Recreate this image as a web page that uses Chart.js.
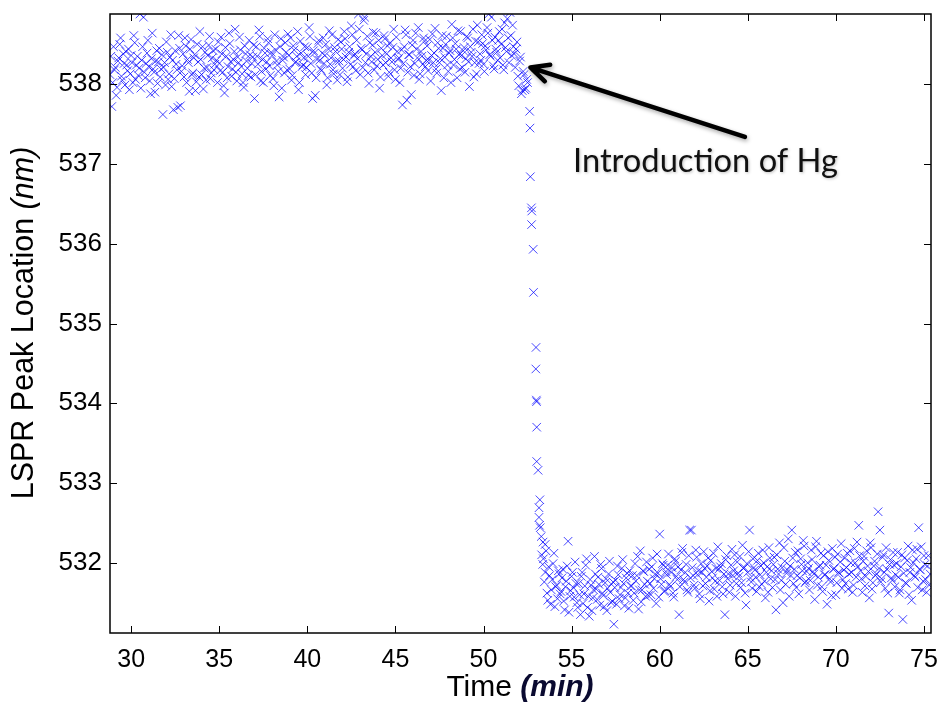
<!DOCTYPE html>
<html>
<head>
<meta charset="utf-8">
<title>LSPR peak location vs time</title>
<script src="https://cdn.jsdelivr.net/npm/chart.js@4.4.1/dist/chart.umd.min.js"></script>
<style>
  html, body { margin: 0; padding: 0; background: #fff; }
  #chartWrap { width: 943px; height: 706px; }
</style>
</head>
<body>
<div id="chartWrap"><canvas id="lsprChart" width="943" height="706"></canvas></div>
<script>
// Before Hg: time (min) and peak location (nm), two interleaved read-outs
const upperTime = [
  28.8,28.9,29.0,29.1,29.2,29.3,29.4,29.5,29.6,29.7,
  29.8,29.9,30.0,30.1,30.2,30.3,30.4,30.5,30.6,30.7,
  30.8,30.9,31.0,31.1,31.2,31.3,31.4,31.5,31.6,31.7,
  31.8,31.9,32.0,32.1,32.2,32.3,32.4,32.5,32.6,32.7,
  32.8,32.9,33.0,33.1,33.2,33.3,33.4,33.5,33.6,33.7,
  33.8,33.9,34.0,34.1,34.2,34.3,34.4,34.5,34.6,34.7,
  34.8,34.9,35.0,35.1,35.2,35.3,35.4,35.5,35.6,35.7,
  35.8,35.9,36.0,36.1,36.2,36.3,36.4,36.5,36.6,36.7,
  36.8,36.9,37.0,37.1,37.2,37.3,37.4,37.5,37.6,37.7,
  37.8,37.9,38.0,38.1,38.2,38.3,38.4,38.5,38.6,38.7,
  38.8,38.9,39.0,39.1,39.2,39.3,39.4,39.5,39.6,39.7,
  39.8,39.9,40.0,40.1,40.2,40.3,40.4,40.5,40.6,40.7,
  40.8,40.9,41.0,41.1,41.2,41.3,41.4,41.5,41.6,41.7,
  41.8,41.9,42.0,42.1,42.2,42.3,42.4,42.5,42.6,42.7,
  42.8,42.9,43.0,43.1,43.2,43.3,43.4,43.5,43.6,43.7,
  43.8,43.9,44.0,44.1,44.2,44.3,44.4,44.5,44.6,44.7,
  44.8,44.9,45.0,45.1,45.2,45.3,45.4,45.5,45.6,45.7,
  45.8,45.9,46.0,46.1,46.2,46.3,46.4,46.5,46.6,46.7,
  46.8,46.9,47.0,47.1,47.2,47.3,47.4,47.5,47.6,47.7,
  47.8,47.9,48.0,48.1,48.2,48.3,48.4,48.5,48.6,48.7,
  48.8,48.9,49.0,49.1,49.2,49.3,49.4,49.5,49.6,49.7,
  49.8,49.9,50.0,50.1,50.2,50.3,50.4,50.5,50.6,50.7,
  50.8,50.9,51.0,51.1,51.2,51.3,51.4,51.5,51.6,51.7,
  51.8,51.9,52.0,52.1,52.2,52.3,52.4,52.5
];
const upperValue = [
  538.12,537.72,538.47,538.21,537.96,538.33,538.58,538.05,538.26,538.41,
  538.17,537.93,538.36,538.02,538.52,538.24,538.11,538.88,538.30,538.84,
  538.08,538.39,538.22,537.88,538.64,538.15,538.29,538.01,538.45,538.19,
  537.62,538.27,538.53,538.06,538.34,537.97,537.68,538.42,538.18,538.61,
  537.73,538.23,538.09,538.48,538.31,537.91,538.56,538.14,538.37,538.03,
  538.28,538.66,538.12,537.94,538.40,538.21,538.49,538.07,538.33,538.18,
  538.44,538.02,538.26,538.59,538.15,537.89,538.35,538.22,538.51,538.10,
  538.31,538.69,538.04,538.27,538.43,538.13,537.96,538.38,538.20,538.55,
  538.09,538.34,537.82,538.47,538.25,538.60,538.16,538.02,538.39,538.28,
  538.52,538.11,538.36,537.98,538.43,538.24,537.84,538.57,538.30,538.14,
  538.40,538.63,538.19,538.05,538.48,538.27,538.35,537.93,538.54,538.22,
  538.33,538.12,538.46,538.71,538.26,537.82,538.39,538.08,538.51,538.30,
  538.17,538.58,538.36,537.99,538.44,538.25,538.62,538.13,538.41,538.05,
  538.29,538.53,538.20,538.66,538.34,538.09,538.47,538.73,538.22,538.38,
  538.55,538.88,538.12,538.43,538.80,538.27,538.60,538.01,538.35,538.49,
  538.18,538.64,538.31,537.95,538.45,538.24,538.57,538.38,538.10,538.52,
  538.28,538.69,538.06,538.41,538.33,538.20,537.74,538.47,538.62,538.15,
  538.37,537.87,538.55,538.26,538.44,538.71,538.13,538.35,538.58,538.22,
  538.48,538.30,538.04,538.63,538.39,538.19,538.52,538.27,537.92,538.45,
  538.34,538.60,538.16,538.42,538.75,538.24,538.51,538.08,538.37,538.66,
  538.21,538.46,538.32,538.58,537.97,538.40,538.69,538.27,538.13,538.53,
  538.38,538.62,538.25,538.48,538.71,538.88,538.35,538.55,538.19,538.44,
  538.30,538.66,538.50,538.24,538.77,538.41,538.58,538.90,538.36,538.47,
  538.21,538.53,537.98,538.34,537.92,538.12,537.95,538.02
];
const upperTimeB = [
  28.85,28.95,29.05,29.15,29.25,29.35,29.45,29.55,29.65,29.75,
  29.85,29.95,30.05,30.15,30.25,30.35,30.45,30.55,30.65,30.75,
  30.85,30.95,31.05,31.15,31.25,31.35,31.45,31.55,31.65,31.75,
  31.85,31.95,32.05,32.15,32.25,32.35,32.45,32.55,32.65,32.75,
  32.85,32.95,33.05,33.15,33.25,33.35,33.45,33.55,33.65,33.75,
  33.85,33.95,34.05,34.15,34.25,34.35,34.45,34.55,34.65,34.75,
  34.85,34.95,35.05,35.15,35.25,35.35,35.45,35.55,35.65,35.75,
  35.85,35.95,36.05,36.15,36.25,36.35,36.45,36.55,36.65,36.75,
  36.85,36.95,37.05,37.15,37.25,37.35,37.45,37.55,37.65,37.75,
  37.85,37.95,38.05,38.15,38.25,38.35,38.45,38.55,38.65,38.75,
  38.85,38.95,39.05,39.15,39.25,39.35,39.45,39.55,39.65,39.75,
  39.85,39.95,40.05,40.15,40.25,40.35,40.45,40.55,40.65,40.75,
  40.85,40.95,41.05,41.15,41.25,41.35,41.45,41.55,41.65,41.75,
  41.85,41.95,42.05,42.15,42.25,42.35,42.45,42.55,42.65,42.75,
  42.85,42.95,43.05,43.15,43.25,43.35,43.45,43.55,43.65,43.75,
  43.85,43.95,44.05,44.15,44.25,44.35,44.45,44.55,44.65,44.75,
  44.85,44.95,45.05,45.15,45.25,45.35,45.45,45.55,45.65,45.75,
  45.85,45.95,46.05,46.15,46.25,46.35,46.45,46.55,46.65,46.75,
  46.85,46.95,47.05,47.15,47.25,47.35,47.45,47.55,47.65,47.75,
  47.85,47.95,48.05,48.15,48.25,48.35,48.45,48.55,48.65,48.75,
  48.85,48.95,49.05,49.15,49.25,49.35,49.45,49.55,49.65,49.75,
  49.85,49.95,50.05,50.15,50.25,50.35,50.45,50.55,50.65,50.75,
  50.85,50.95,51.05,51.15,51.25,51.35,51.45,51.55,51.65,51.75,
  51.85,51.95,52.05,52.15,52.25,52.35,52.45
];
const upperValueB = [
  538.35,538.02,538.18,537.86,538.29,538.50,538.10,538.38,537.99,538.24,
  538.44,538.13,538.27,538.61,538.06,538.35,538.20,537.95,538.47,538.15,
  538.26,538.55,538.04,538.32,538.19,537.90,538.42,538.28,538.09,538.37,
  538.21,537.99,538.40,538.13,538.62,538.30,538.07,538.25,537.71,538.45,
  538.16,538.38,538.58,538.02,538.27,538.44,538.12,538.33,537.92,538.50,
  538.09,538.31,538.47,538.20,538.05,538.36,538.60,538.14,538.42,538.25,
  538.30,538.53,538.17,538.38,537.98,538.46,538.08,538.64,538.28,538.19,
  538.41,538.15,538.34,538.59,538.22,538.02,538.48,538.29,538.11,538.37,
  538.26,538.49,538.12,538.35,538.68,538.04,538.31,538.45,538.19,538.57,
  538.23,538.40,538.07,538.62,538.29,538.16,538.47,537.95,538.34,538.52,
  538.18,538.36,538.58,538.11,538.43,538.28,538.66,538.02,538.39,538.24,
  538.47,538.21,538.35,538.60,538.14,538.42,537.86,538.31,538.55,538.19,
  538.39,538.26,538.50,538.08,538.67,538.33,538.18,538.46,538.29,538.56,
  538.12,538.44,538.31,538.57,538.03,538.40,538.25,538.62,538.36,538.17,
  538.32,538.69,538.45,538.21,538.84,538.38,538.14,538.52,538.28,538.65,
  538.40,538.23,538.55,538.09,538.36,538.61,538.27,538.48,538.15,538.33,
  538.46,538.18,538.59,538.31,538.02,538.43,538.26,538.68,537.80,538.37,
  538.22,538.49,538.11,538.64,538.33,538.06,538.41,538.25,538.54,538.30,
  538.17,538.56,538.36,538.27,538.70,538.14,538.45,538.32,538.61,538.08,
  538.50,538.24,538.39,538.02,538.58,538.31,538.44,538.67,538.19,538.36,
  538.42,538.15,538.60,538.28,538.47,538.35,538.09,538.54,538.74,538.26,
  538.30,538.51,538.16,538.43,538.64,538.37,538.84,538.23,538.59,538.40,
  538.55,538.33,538.69,538.18,538.46,538.82,538.27,538.61,538.74,538.38,
  538.44,538.10,538.29,537.88,538.16,537.93,538.06
];

// Response to Hg
const dropTime = [
  52.62,52.64,52.66,52.72,52.74,52.73,52.82,52.84,52.98,52.97,
  53.00,53.01,53.02,53.02,53.10,53.20,53.15,53.15,53.18,53.22,
  53.28,53.38,53.50,53.30,53.36
];
const dropValue = [
  537.66,537.45,536.84,536.45,536.41,536.24,535.93,535.39,534.70,534.43,
  534.04,534.02,533.70,533.27,533.16,532.79,532.69,532.57,532.47,532.44,
  532.33,532.26,532.23,532.10,531.98
];

// After Hg
const lowerTime = [
  53.4,53.5,53.6,53.7,53.8,53.9,54.0,54.1,54.2,54.3,
  54.4,54.5,54.6,54.7,54.8,54.9,55.0,55.1,55.2,55.3,
  55.4,55.5,55.6,55.7,55.8,55.9,56.0,56.1,56.2,56.3,
  56.4,56.5,56.6,56.7,56.8,56.9,57.0,57.1,57.2,57.3,
  57.4,57.5,57.6,57.7,57.8,57.9,58.0,58.1,58.2,58.3,
  58.4,58.5,58.6,58.7,58.8,58.9,59.0,59.1,59.2,59.3,
  59.4,59.5,59.6,59.7,59.8,59.9,60.0,60.1,60.2,60.3,
  60.4,60.5,60.6,60.7,60.8,60.9,61.0,61.1,61.2,61.3,
  61.4,61.5,61.6,61.7,61.8,61.9,62.0,62.1,62.2,62.3,
  62.4,62.5,62.6,62.7,62.8,62.9,63.0,63.1,63.2,63.3,
  63.4,63.5,63.6,63.7,63.8,63.9,64.0,64.1,64.2,64.3,
  64.4,64.5,64.6,64.7,64.8,64.9,65.0,65.1,65.2,65.3,
  65.4,65.5,65.6,65.7,65.8,65.9,66.0,66.1,66.2,66.3,
  66.4,66.5,66.6,66.7,66.8,66.9,67.0,67.1,67.2,67.3,
  67.4,67.5,67.6,67.7,67.8,67.9,68.0,68.1,68.2,68.3,
  68.4,68.5,68.6,68.7,68.8,68.9,69.0,69.1,69.2,69.3,
  69.4,69.5,69.6,69.7,69.8,69.9,70.0,70.1,70.2,70.3,
  70.4,70.5,70.6,70.7,70.8,70.9,71.0,71.1,71.2,71.3,
  71.4,71.5,71.6,71.7,71.8,71.9,72.0,72.1,72.2,72.3,
  72.4,72.5,72.6,72.7,72.8,72.9,73.0,73.1,73.2,73.3,
  73.4,73.5,73.6,73.7,73.8,73.9,74.0,74.1,74.2,74.3,
  74.4,74.5,74.6,74.7,74.8,74.9,75.0,75.1,75.2,75.3
];
const lowerValue = [
  532.05,531.88,531.62,531.95,531.48,531.79,532.12,531.70,531.55,531.86,
  531.64,531.92,531.41,531.77,532.27,531.58,531.83,531.69,532.01,531.50,
  531.74,531.35,531.88,531.61,531.97,531.44,531.33,531.72,531.56,532.08,
  531.67,531.82,531.47,531.93,531.59,531.75,531.40,531.86,531.63,531.52,
  531.23,531.78,531.96,531.55,531.69,532.04,531.46,531.81,531.62,531.90,
  531.71,531.53,531.99,531.84,531.42,532.15,531.66,531.89,531.58,531.77,
  531.92,531.60,532.06,531.80,531.49,531.87,532.36,531.73,531.97,531.65,
  531.85,532.11,531.70,531.94,531.57,532.02,531.79,531.35,531.91,532.18,
  531.76,531.98,531.63,532.41,532.41,531.84,531.68,532.07,531.90,531.55,
  531.88,532.14,531.74,531.96,531.52,532.03,531.81,531.67,531.93,532.20,
  531.78,531.99,531.61,531.35,532.09,531.86,531.72,532.17,531.90,531.58,
  532.01,531.83,531.69,532.22,531.94,531.47,531.88,532.41,531.76,532.05,
  531.91,531.64,532.12,531.85,531.73,532.00,531.56,531.95,532.19,531.80,
  531.69,532.07,531.41,531.92,532.25,531.78,531.50,532.02,531.87,532.30,
  531.96,532.41,531.74,532.13,531.84,531.61,532.05,531.90,532.21,531.77,
  532.00,531.66,532.16,531.89,531.54,532.27,531.82,531.97,531.70,532.09,
  531.85,531.48,532.03,531.76,532.18,531.93,531.60,532.11,531.87,532.24,
  531.79,532.06,531.94,531.67,532.15,531.88,531.72,532.00,532.26,532.47,
  531.90,531.63,532.08,531.83,531.96,531.56,532.19,531.75,532.02,531.86,
  532.64,532.41,531.80,532.10,531.68,531.92,531.37,532.04,531.78,531.97,
  531.85,532.13,531.62,531.95,531.29,532.06,531.74,532.21,531.88,531.53,
  532.00,531.82,532.17,532.44,531.91,531.66,532.09,531.79,531.96,531.72
];
const lowerTimeB = [
  53.45,53.55,53.65,53.75,53.85,53.95,54.05,54.15,54.25,54.35,
  54.45,54.55,54.65,54.75,54.85,54.95,55.05,55.15,55.25,55.35,
  55.45,55.55,55.65,55.75,55.85,55.95,56.05,56.15,56.25,56.35,
  56.45,56.55,56.65,56.75,56.85,56.95,57.05,57.15,57.25,57.35,
  57.45,57.55,57.65,57.75,57.85,57.95,58.05,58.15,58.25,58.35,
  58.45,58.55,58.65,58.75,58.85,58.95,59.05,59.15,59.25,59.35,
  59.45,59.55,59.65,59.75,59.85,59.95,60.05,60.15,60.25,60.35,
  60.45,60.55,60.65,60.75,60.85,60.95,61.05,61.15,61.25,61.35,
  61.45,61.55,61.65,61.75,61.85,61.95,62.05,62.15,62.25,62.35,
  62.45,62.55,62.65,62.75,62.85,62.95,63.05,63.15,63.25,63.35,
  63.45,63.55,63.65,63.75,63.85,63.95,64.05,64.15,64.25,64.35,
  64.45,64.55,64.65,64.75,64.85,64.95,65.05,65.15,65.25,65.35,
  65.45,65.55,65.65,65.75,65.85,65.95,66.05,66.15,66.25,66.35,
  66.45,66.55,66.65,66.75,66.85,66.95,67.05,67.15,67.25,67.35,
  67.45,67.55,67.65,67.75,67.85,67.95,68.05,68.15,68.25,68.35,
  68.45,68.55,68.65,68.75,68.85,68.95,69.05,69.15,69.25,69.35,
  69.45,69.55,69.65,69.75,69.85,69.95,70.05,70.15,70.25,70.35,
  70.45,70.55,70.65,70.75,70.85,70.95,71.05,71.15,71.25,71.35,
  71.45,71.55,71.65,71.75,71.85,71.95,72.05,72.15,72.25,72.35,
  72.45,72.55,72.65,72.75,72.85,72.95,73.05,73.15,73.25,73.35,
  73.45,73.55,73.65,73.75,73.85,73.95,74.05,74.15,74.25,74.35,
  74.45,74.55,74.65,74.75,74.85,74.95,75.05,75.15,75.25,75.35
];
const lowerValueB = [
  531.76,532.15,531.53,531.84,531.66,531.99,531.45,531.72,531.90,531.61,
  531.81,531.52,531.70,531.96,531.38,531.65,531.88,531.57,531.74,531.44,
  531.60,531.83,531.49,531.71,532.05,531.58,531.79,531.40,531.66,531.86,
  531.54,531.73,531.98,531.62,531.45,531.80,531.68,532.02,531.50,531.76,
  531.69,531.48,531.85,531.60,531.93,531.74,531.56,531.87,531.43,531.71,
  531.84,531.62,531.77,532.08,531.66,531.51,531.90,531.73,532.01,531.59,
  531.74,531.95,531.68,531.86,532.11,531.57,531.80,531.99,531.64,531.89,
  531.97,531.73,531.88,531.62,532.05,531.83,531.95,531.70,532.13,531.79,
  531.88,531.66,532.09,531.81,531.94,531.72,532.16,531.85,531.61,531.99,
  531.71,531.93,531.82,532.06,531.65,531.89,532.12,531.77,531.58,531.92,
  531.95,531.70,531.86,532.04,531.80,531.63,531.97,531.84,532.10,531.74,
  531.87,532.08,531.75,531.93,531.62,531.99,532.14,531.81,531.68,531.94,
  531.82,532.03,531.70,531.96,532.16,531.77,531.88,531.63,532.06,531.90,
  531.98,531.79,532.10,531.86,531.66,531.94,532.19,531.73,531.91,531.58,
  531.84,532.06,531.92,531.69,532.15,531.81,531.98,532.28,531.75,531.89,
  531.93,531.78,532.04,531.86,532.20,531.72,531.95,532.12,531.64,531.85,
  531.97,532.14,531.80,531.59,531.92,532.07,531.75,531.88,532.01,531.68,
  531.91,531.74,532.12,531.86,532.00,531.63,532.18,531.82,531.95,532.09,
  531.80,532.02,531.71,532.15,531.89,532.25,531.67,531.96,531.84,532.11,
  531.93,531.76,532.07,531.88,532.19,531.62,531.98,531.81,532.13,531.70,
  531.99,531.82,531.66,532.10,531.87,531.75,532.03,531.60,531.94,532.16,
  531.84,532.05,531.69,531.92,532.20,531.77,531.98,531.63,532.09,531.86
];

const xTickValues = [30, 35, 40, 45, 50, 55, 60, 65, 70, 75];
const yTickValues = [532, 533, 534, 535, 536, 537, 538];

const annotationText = 'Introduction of Hg';

function toPoints(times, values) {
  return times.map((t, i) => ({ x: t, y: values[i] }));
}

// draw text made of several styled pieces, centred on (cx, cy)
function drawRichText(ctx, parts, cx, cy) {
  let total = 0;
  parts.forEach(p => { ctx.font = p.font; p.w = ctx.measureText(p.text).width; total += p.w; });
  let left = cx - total / 2;
  ctx.textAlign = 'left';
  ctx.textBaseline = 'middle';
  parts.forEach(p => {
    ctx.font = p.font;
    ctx.fillStyle = p.color || '#000';
    ctx.fillText(p.text, left, cy);
    left += p.w;
  });
}

const framePlugin = {
  id: 'frame',
  afterDraw(chart) {
    const { ctx, chartArea: a, scales: { x, y } } = chart;
    ctx.save();

    // box around plot
    ctx.strokeStyle = '#000';
    ctx.lineWidth = 1.5;
    ctx.strokeRect(a.left, a.top, a.right - a.left, a.bottom - a.top);

    // inward ticks on all four sides
    const tl = 7;
    ctx.lineWidth = 1;
    ctx.beginPath();
    xTickValues.forEach(v => {
      const px = Math.round(x.getPixelForValue(v)) + 0.5;
      ctx.moveTo(px, a.bottom); ctx.lineTo(px, a.bottom - tl);
      ctx.moveTo(px, a.top); ctx.lineTo(px, a.top + tl);
    });
    yTickValues.forEach(v => {
      const py = Math.round(y.getPixelForValue(v)) + 0.5;
      ctx.moveTo(a.left, py); ctx.lineTo(a.left + tl, py);
      ctx.moveTo(a.right, py); ctx.lineTo(a.right - tl, py);
    });
    ctx.stroke();

    // axis titles
    drawRichText(ctx, [
      { text: 'Time ', font: '30px "Liberation Sans", Arial, sans-serif' },
      { text: '(min)', font: 'italic bold 30px "Liberation Sans", Arial, sans-serif', color: '#0a0a30' }
    ], 520, 688);

    ctx.save();
    ctx.translate(25, 323);
    ctx.rotate(-Math.PI / 2);
    drawRichText(ctx, [
      { text: 'LSPR Peak Location ', font: '30.5px "Liberation Sans", Arial, sans-serif' },
      { text: '(nm)', font: 'italic 30.5px "Liberation Sans", Arial, sans-serif' }
    ], 0, 0);
    ctx.restore();

    // arrow + label
    const tipX = x.getPixelForValue(52.66), tipY = y.getPixelForValue(538.21);
    const tailX = x.getPixelForValue(64.84), tailY = y.getPixelForValue(537.34);
    ctx.shadowColor = 'rgba(0,0,0,0.35)';
    ctx.shadowBlur = 4;
    ctx.shadowOffsetX = 1;
    ctx.shadowOffsetY = 2;
    ctx.strokeStyle = '#000';
    ctx.lineWidth = 4.5;
    ctx.lineCap = 'round';
    ctx.lineJoin = 'round';
    const ang = Math.atan2(tailY - tipY, tailX - tipX);
    const head = 20;
    ctx.beginPath();
    ctx.moveTo(tailX, tailY);
    ctx.lineTo(tipX + 2 * Math.cos(ang), tipY + 2 * Math.sin(ang));
    ctx.moveTo(tipX + head * Math.cos(ang - 0.45), tipY + head * Math.sin(ang - 0.45));
    ctx.lineTo(tipX, tipY);
    ctx.lineTo(tipX + head * Math.cos(ang + 0.45), tipY + head * Math.sin(ang + 0.45));
    ctx.stroke();

    ctx.shadowBlur = 3;
    ctx.shadowOffsetX = 1;
    ctx.shadowOffsetY = 1;
    ctx.shadowColor = 'rgba(0,0,0,0.25)';
    ctx.font = '32px Lato, "Open Sans", sans-serif';
    const w = ctx.measureText(annotationText).width;
    const lx = x.getPixelForValue(55.08), ly = y.getPixelForValue(536.9);
    ctx.translate(lx, ly);
    ctx.scale(265 / w, 1);
    ctx.fillStyle = '#111';
    ctx.textAlign = 'left';
    ctx.textBaseline = 'alphabetic';
    ctx.fillText(annotationText, 0, 0);

    ctx.restore();
  }
};

const markerStyle = {
  showLine: false,
  pointStyle: 'crossRot',
  pointRadius: 6,
  pointHoverRadius: 6,
  pointBorderWidth: 1,
  pointBorderColor: 'rgba(0, 0, 255, 0.72)',
  pointBackgroundColor: 'rgba(0, 0, 255, 0.72)'
};

new Chart(document.getElementById('lsprChart'), {
  type: 'scatter',
  data: {
    datasets: [
      Object.assign({ label: 'Before Hg', data: toPoints(upperTime, upperValue) }, markerStyle),
      Object.assign({ label: 'Before Hg (b)', data: toPoints(upperTimeB, upperValueB) }, markerStyle),
      Object.assign({ label: 'Hg response', data: toPoints(dropTime, dropValue) }, markerStyle),
      Object.assign({ label: 'After Hg', data: toPoints(lowerTime, lowerValue) }, markerStyle),
      Object.assign({ label: 'After Hg (b)', data: toPoints(lowerTimeB, lowerValueB) }, markerStyle)
    ]
  },
  options: {
    responsive: false,
    animation: false,
    devicePixelRatio: 1,
    layout: { padding: { left: 0, top: 14, right: 12, bottom: 0 } },
    plugins: {
      legend: { display: false },
      tooltip: { enabled: false }
    },
    scales: {
      x: {
        type: 'linear',
        min: 28.8,
        max: 75.4,
        grid: { display: false, drawTicks: false },
        border: { display: false },
        afterBuildTicks: s => { s.ticks = xTickValues.map(v => ({ value: v })); },
        afterFit: s => { s.height = 73; s.paddingLeft = 0; s.paddingRight = 0; },
        ticks: {
          padding: 12,
          color: '#000',
          font: { family: '"Liberation Sans", Arial, sans-serif', size: 25 },
          maxRotation: 0
        }
      },
      y: {
        type: 'linear',
        min: 531.12,
        max: 538.88,
        grid: { display: false, drawTicks: false },
        border: { display: false },
        afterBuildTicks: s => { s.ticks = yTickValues.map(v => ({ value: v })); },
        afterFit: s => { s.width = 110; s.paddingTop = 0; s.paddingBottom = 0; },
        ticks: {
          padding: 8,
          color: '#000',
          font: { family: '"Liberation Sans", Arial, sans-serif', size: 26 }
        }
      }
    }
  },
  plugins: [framePlugin]
});
</script>
</body>
</html>
